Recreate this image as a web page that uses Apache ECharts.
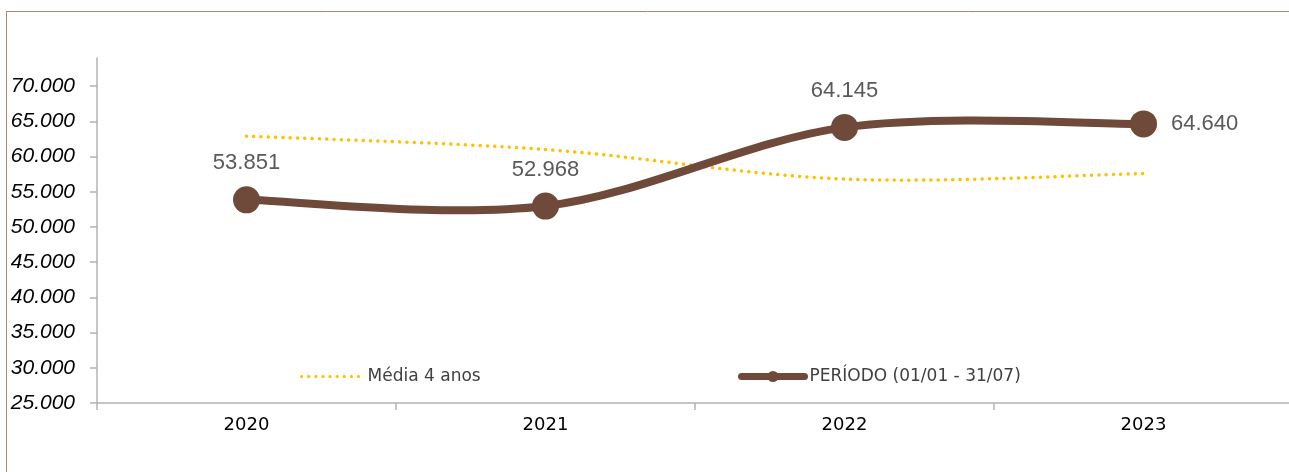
<!DOCTYPE html>
<html>
<head>
<meta charset="utf-8">
<script src="https://cdn.jsdelivr.net/npm/echarts@6/dist/echarts.min.js"></script>
<style>
html,body{margin:0;padding:0;background:#fff;}
#chart{width:1289px;height:472px;}
</style>
</head>
<body>
<div id="chart"></div>
<script>
const categories = ['2020', '2021', '2022', '2023'];
const periodoValues = [53851, 52968, 64145, 64640];
const mediaValues = [62900, 61000, 56800, 57600];
const yTickValues = [25000, 30000, 35000, 40000, 45000, 50000, 55000, 60000, 65000, 70000];
const seriesNames = ['Média 4 anos', 'PERÍODO (01/01 - 31/07)'];

const BROWN = '#6F4A3B';
const YELLOW = '#FFC000';

function fmt(v) {
  return String(Math.round(v)).replace(/\B(?=(\d{3})+(?!\d))/g, '.');
}

// Smoothed (Catmull-Rom style) path through points given in pixel space
function smoothPath(pts) {
  let d = 'M' + pts[0][0] + ' ' + pts[0][1];
  for (let i = 0; i < pts.length - 1; i++) {
    const p0 = pts[i - 1] || pts[i];
    const p1 = pts[i];
    const p2 = pts[i + 1];
    const p3 = pts[i + 2] || pts[i + 1];
    const c1x = p1[0] + (p2[0] - p0[0]) / 6, c1y = p1[1] + (p2[1] - p0[1]) / 6;
    const c2x = p2[0] - (p3[0] - p1[0]) / 6, c2y = p2[1] - (p3[1] - p1[1]) / 6;
    d += ' C' + c1x + ' ' + c1y + ' ' + c2x + ' ' + c2y + ' ' + p2[0] + ' ' + p2[1];
  }
  return d;
}

function curveSeries(values, style, z) {
  return {
    type: 'custom',
    name: '_curve' + z,
    coordinateSystem: 'cartesian2d',
    data: values.map((v, i) => [i, v]),
    encode: { x: 0, y: 1 },
    silent: true,
    clip: false,
    z: z,
    renderItem: function (params, api) {
      if (params.dataIndex !== 0) return null;
      const pts = values.map((v, i) => api.coord([i, v]));
      return {
        type: 'path',
        shape: { pathData: smoothPath(pts) },
        style: Object.assign({ fill: null }, style)
      };
    }
  };
}

const chart = echarts.init(document.getElementById('chart'));
chart.setOption({
  animation: false,
  backgroundColor: '#ffffff',
  graphic: [
    { type: 'line', shape: { x1: 6, y1: 11.5, x2: 1289, y2: 11.5 }, style: { stroke: '#a5877b', lineWidth: 1 } },
    { type: 'line', shape: { x1: 6.5, y1: 11, x2: 6.5, y2: 472 }, style: { stroke: '#a5877b', lineWidth: 1 } }
  ],
  grid: { left: 97, top: 58, right: -4, bottom: 69, containLabel: false, outerBoundsMode: 'none' },
  legend: [
    {
      data: [{
        name: seriesNames[0],
        itemStyle: { opacity: 0 },
        lineStyle: { color: YELLOW, width: 3.2, type: [0.1, 7], cap: 'round', opacity: 1 }
      }],
      left: 300, top: 368, padding: 0,
      itemWidth: 61, itemHeight: 14,
      textStyle: { fontFamily: 'DejaVu Sans', fontSize: 17, color: '#404040' }
    },
    {
      data: [{
        name: seriesNames[1],
        lineStyle: { color: BROWN, width: 7, opacity: 1, cap: 'round' },
        itemStyle: { color: BROWN, opacity: 1 }
      }],
      left: 738, top: 368, padding: 0,
      itemWidth: 63, itemHeight: 14,
      textStyle: { fontFamily: 'DejaVu Sans', fontSize: 17, color: '#404040' }
    }
  ],
  xAxis: {
    type: 'category',
    data: categories,
    boundaryGap: true,
    axisLine: { lineStyle: { color: '#b3b3b3', width: 1.5 } },
    axisTick: { show: true, length: 7, lineStyle: { color: '#b3b3b3', width: 1.5 } },
    axisLabel: { fontFamily: 'DejaVu Sans', fontSize: 18, color: '#000000', margin: 13 },
    splitLine: { show: false }
  },
  yAxis: {
    type: 'value',
    min: 25000,
    max: 74000,
    interval: 5000,
    axisLine: { show: true, lineStyle: { color: '#b3b3b3', width: 1.5 } },
    axisTick: { show: true, length: 7, customValues: yTickValues, lineStyle: { color: '#b3b3b3', width: 1.5 } },
    axisLabel: {
      customValues: yTickValues,
      formatter: fmt,
      fontFamily: 'Liberation Sans', fontStyle: 'italic', fontSize: 21, color: '#000000', margin: 22
    },
    splitLine: { show: false }
  },
  series: [
    {
      name: seriesNames[0],
      type: 'line',
      data: mediaValues,
      symbol: 'none',
      showSymbol: false,
      lineStyle: { color: YELLOW, width: 3, opacity: 0 },
      itemStyle: { color: YELLOW },
      z: 2
    },
    curveSeries(mediaValues, { stroke: YELLOW, lineWidth: 3.5, lineDash: [0.1, 7.2], lineCap: 'round' }, 2),
    curveSeries(periodoValues, { stroke: BROWN, lineWidth: 8, lineCap: 'round' }, 3),
    {
      name: seriesNames[1],
      type: 'line',
      data: periodoValues.map((v, i) => i === periodoValues.length - 1
        ? { value: v, label: { position: 'right', distance: 14 } }
        : v),
      symbol: 'circle',
      symbolSize: 27,
      lineStyle: { color: BROWN, width: 8, opacity: 0 },
      itemStyle: { color: BROWN },
      label: {
        show: true,
        position: 'top',
        distance: 12,
        formatter: p => fmt(p.value),
        fontFamily: 'Liberation Sans', fontSize: 22, color: '#595959'
      },
      z: 4
    }
  ]
});
</script>
</body>
</html>
